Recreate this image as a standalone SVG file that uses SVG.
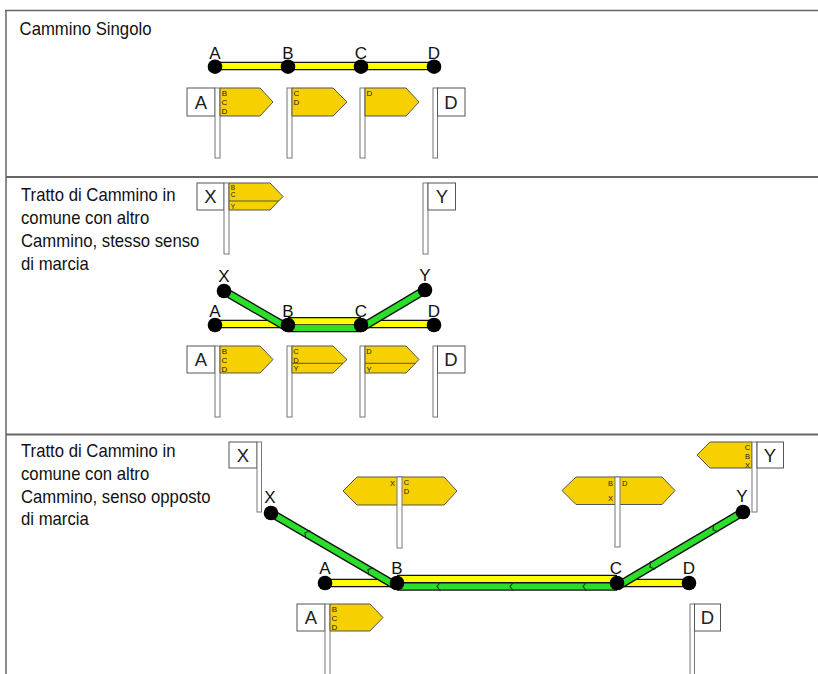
<svg xmlns="http://www.w3.org/2000/svg" width="818" height="674" viewBox="0 0 818 674">
<style>
.t{font-family:"Liberation Sans",Arial,sans-serif;fill:#111}
.h{font-size:17.5px}
.lbl{font-size:17px;text-anchor:middle}
.box{fill:#fff;stroke:#555;stroke-width:1}
.pole{fill:#fff;stroke:#777;stroke-width:1}
.sg{fill:#f6d000;stroke:#555;stroke-width:1}
.dv{stroke:#555;stroke-width:1;fill:none}
.st{font-family:"Liberation Sans Narrow","Liberation Sans",Arial,sans-serif;font-size:8px;fill:#222}
.ss{font-family:"Liberation Sans Narrow","Liberation Sans",Arial,sans-serif;font-size:7.5px;fill:#222}
.xs{font-family:"Liberation Sans Narrow","Liberation Sans",Arial,sans-serif;font-size:6.5px;fill:#222}
.vt{writing-mode:vertical-rl;text-orientation:upright}
.bl{font-family:"Liberation Sans",Arial,sans-serif;font-size:18.5px;fill:#222;text-anchor:middle}
.ko{stroke:#111;stroke-width:8.5;fill:none}
.y{stroke:#ffff00;stroke-width:6;fill:none}
.g{stroke:#2ade2a;stroke-width:6;fill:none}
.dot{fill:#000}
.ch{fill:none;stroke:#0d400d;stroke-width:1.2}
.frame{stroke:#666;fill:none}
</style>

<g id="frame" class="frame">
<line x1="5" y1="10.5" x2="818" y2="10.5" stroke-width="1.5"/>
<line x1="6" y1="10" x2="6" y2="674" stroke-width="1.5"/>
<line x1="6" y1="177" x2="818" y2="177" stroke-width="2"/>
<line x1="6" y1="434.5" x2="818" y2="434.5" stroke-width="2"/>
</g>

<g id="headings" class="t h" transform="scale(0.955,1)">
<text x="20.5" y="35">Cammino Singolo</text>
<text x="22" y="201.5">Tratto di Cammino in</text>
<text x="22" y="224.5">comune con altro</text>
<text x="22" y="247.5">Cammino, stesso senso</text>
<text x="22" y="270.5">di marcia</text>
<text x="22" y="457">Tratto di Cammino in</text>
<text x="22" y="480">comune con altro</text>
<text x="22" y="503">Cammino, senso opposto</text>
<text x="22" y="525.5">di marcia</text>
</g>

<g id="connectors">
<!-- section 1 -->
<line class="ko" x1="215" y1="66" x2="434" y2="66"/>
<line class="y" x1="215" y1="66" x2="434" y2="66"/>
<!-- section 2 -->
<line class="ko" x1="215" y1="324" x2="288" y2="324"/>
<line class="ko" x1="361" y1="324" x2="434" y2="324"/>
<line class="ko" x1="288" y1="321.3" x2="361" y2="321.3"/>
<line class="ko" x1="288" y1="328" x2="361" y2="328"/>
<line class="y" x1="215" y1="324" x2="288" y2="324"/>
<line class="y" x1="361" y1="324" x2="434" y2="324"/>
<line class="y" x1="288" y1="321.3" x2="361" y2="321.3"/>
<line class="g" x1="288" y1="328" x2="361" y2="328"/>
<line class="ko" x1="224" y1="291" x2="288" y2="328"/>
<line class="g" x1="224" y1="291" x2="288" y2="328"/>
<line class="ko" x1="361" y1="328" x2="425" y2="290"/>
<line class="g" x1="361" y1="328" x2="425" y2="290"/>
<!-- section 3 -->
<line class="ko" x1="325" y1="583" x2="397" y2="583"/>
<line class="ko" x1="617" y1="583" x2="689" y2="583"/>
<line class="ko" x1="397" y1="579" x2="617" y2="579"/>
<line class="ko" x1="397" y1="586.5" x2="617" y2="586.5"/>
<line class="y" x1="325" y1="583" x2="397" y2="583"/>
<line class="y" x1="617" y1="583" x2="689" y2="583"/>
<line class="y" x1="397" y1="579" x2="617" y2="579"/>
<line class="g" x1="397" y1="586.5" x2="617" y2="586.5"/>
<line class="ko" x1="271" y1="513" x2="397" y2="586.5"/>
<line class="g" x1="271" y1="513" x2="397" y2="586.5"/>
<line class="ko" x1="617" y1="586.5" x2="743" y2="512"/>
<line class="g" x1="617" y1="586.5" x2="743" y2="512"/>
<!-- direction chevrons -->
<path class="ch" d="M440.5,582 L437,586.5 L440.5,591"/>
<path class="ch" d="M513.5,582 L510,586.5 L513.5,591"/>
<path class="ch" d="M586.5,582 L583,586.5 L586.5,591"/>
<path class="ch" transform="translate(305,532.8) rotate(30.3)" d="M3.5,-4.5 L0,0 L3.5,4.5"/>
<path class="ch" transform="translate(368,569.6) rotate(30.3)" d="M3.5,-4.5 L0,0 L3.5,4.5"/>
<path class="ch" transform="translate(650,567.1) rotate(-30.6)" d="M3.5,-4.5 L0,0 L3.5,4.5"/>
<path class="ch" transform="translate(713,529.9) rotate(-30.6)" d="M3.5,-4.5 L0,0 L3.5,4.5"/>
</g>

<!-- ===== Section 1 nodes ===== -->
<g id="s1-A"><circle class="dot" cx="215" cy="66.7" r="7.3"/><text class="t lbl" x="215" y="59">A</text></g>
<g id="s1-B"><circle class="dot" cx="288" cy="66.7" r="7.3"/><text class="t lbl" x="288" y="59">B</text></g>
<g id="s1-C"><circle class="dot" cx="361" cy="66.7" r="7.3"/><text class="t lbl" x="361" y="59">C</text></g>
<g id="s1-D"><circle class="dot" cx="434" cy="66.7" r="7.3"/><text class="t lbl" x="434" y="59">D</text></g>

<g id="s1-sign-A">
<rect class="box" x="187" y="88" width="28" height="28"/>
<text class="bl" x="201" y="109">A</text>
<rect class="pole" x="215" y="88" width="5" height="70"/>
<polygon class="sg" points="220,88 260,88 273,102 260,116 220,116"/>
<text class="st vt" x="224.5" y="89">BCD</text>
</g>
<g id="s1-sign-B">
<rect class="pole" x="287" y="88" width="5" height="70"/>
<polygon class="sg" points="292,88 333,88 347,102 333,116 292,116"/>
<text class="st vt" x="296.5" y="89">CD</text>
</g>
<g id="s1-sign-C">
<rect class="pole" x="360" y="88" width="5" height="70"/>
<polygon class="sg" points="365,88 406,88 419,102 406,116 365,116"/>
<text class="st vt" x="369.5" y="89">D</text>
</g>
<g id="s1-sign-D">
<rect class="pole" x="433" y="88" width="4.5" height="70"/>
<rect class="box" x="437.5" y="88" width="27.5" height="28"/>
<text class="bl" x="451" y="109">D</text>
</g>

<!-- ===== Section 2 ===== -->
<g id="s2-sign-X">
<rect class="box" x="197" y="183" width="27" height="27"/>
<text class="bl" x="210.5" y="203">X</text>
<rect class="pole" x="224" y="183" width="5" height="71"/>
<polygon class="sg" points="229,183 270,183 283,196.5 270,210 229,210"/>
<line class="dv" x1="229" y1="201" x2="278.7" y2="201"/>
<text class="xs vt" x="233" y="184">BC</text>
<text class="xs vt" x="233" y="202.5">Y</text>
</g>
<g id="s2-sign-Y">
<rect class="pole" x="423" y="183" width="5" height="71"/>
<rect class="box" x="428" y="183" width="27.5" height="27"/>
<text class="bl" x="442" y="203">Y</text>
</g>

<g id="s2-X"><circle class="dot" cx="224" cy="291" r="7.3"/><text class="t lbl" x="224" y="282">X</text></g>
<g id="s2-Y"><circle class="dot" cx="425" cy="290" r="7.3"/><text class="t lbl" x="425" y="281">Y</text></g>
<g id="s2-A"><circle class="dot" cx="215" cy="325" r="7.3"/><text class="t lbl" x="215" y="317">A</text></g>
<g id="s2-B"><circle class="dot" cx="288" cy="325" r="7.3"/><text class="t lbl" x="288" y="317">B</text></g>
<g id="s2-C"><circle class="dot" cx="361" cy="325" r="7.3"/><text class="t lbl" x="361" y="317">C</text></g>
<g id="s2-D"><circle class="dot" cx="434" cy="325" r="7.3"/><text class="t lbl" x="434" y="317">D</text></g>

<g id="s2-sign-A">
<rect class="box" x="187" y="346" width="28" height="27"/>
<text class="bl" x="201" y="366">A</text>
<rect class="pole" x="215" y="346" width="5" height="71"/>
<polygon class="sg" points="220,346 260,346 273,359.5 260,373 220,373"/>
<text class="st vt" x="224.5" y="347">BCD</text>
</g>
<g id="s2-sign-B">
<rect class="pole" x="287" y="346" width="5" height="71"/>
<polygon class="sg" points="292,346 333,346 347,359.5 333,373 292,373"/>
<line class="dv" x1="292" y1="363.3" x2="343" y2="363.3"/>
<text class="ss vt" x="296" y="346.5">CD</text>
<text class="ss vt" x="296" y="364">Y</text>
</g>
<g id="s2-sign-C">
<rect class="pole" x="360" y="346" width="5" height="71"/>
<polygon class="sg" points="365,346 406,346 419,359.5 406,373 365,373"/>
<line class="dv" x1="365" y1="363.3" x2="415.5" y2="363.3"/>
<text class="ss vt" x="369" y="346.5">D</text>
<text class="ss vt" x="369" y="364.5">Y</text>
</g>
<g id="s2-sign-D">
<rect class="pole" x="433" y="346" width="4.5" height="71"/>
<rect class="box" x="437.5" y="346" width="27.5" height="27"/>
<text class="bl" x="451" y="366">D</text>
</g>

<!-- ===== Section 3 ===== -->
<g id="s3-sign-X">
<rect class="box" x="229" y="442" width="28" height="26"/>
<text class="bl" x="243" y="461.5">X</text>
<rect class="pole" x="257" y="442" width="4.5" height="70"/>
</g>
<g id="s3-sign-B">
<polygon class="sg" points="343,491 357,477 444,477 457,491 444,505 357,505"/>
<rect class="pole" x="397" y="477" width="5" height="71"/>
<text class="ss" x="395" y="485.5" text-anchor="end">X</text>
<text class="ss vt" x="406.5" y="477.5">CD</text>
</g>
<g id="s3-sign-C">
<polygon class="sg" points="562,490.5 576,477 662,477 675,490.5 662,504.5 576,504.5"/>
<rect class="pole" x="615" y="477" width="5" height="70"/>
<text class="ss" x="613" y="485.5" text-anchor="end">B</text>
<text class="ss" x="613" y="500.5" text-anchor="end">X</text>
<text class="ss" x="622" y="485.5">D</text>
</g>
<g id="s3-sign-Y">
<polygon class="sg" points="697,455 710,442 752,442 752,468 710,468"/>
<rect class="pole" x="752" y="442" width="5" height="70"/>
<rect class="box" x="757" y="442" width="26.5" height="26"/>
<text class="bl" x="770" y="461.5">Y</text>
<text class="ss vt" x="747.5" y="442.5">CBX</text>
</g>

<g id="s3-X"><circle class="dot" cx="271" cy="513" r="7.3"/><text class="t lbl" x="270" y="503">X</text></g>
<g id="s3-Y"><circle class="dot" cx="743" cy="512" r="7.3"/><text class="t lbl" x="742" y="502">Y</text></g>
<g id="s3-A"><circle class="dot" cx="325" cy="583" r="7.3"/><text class="t lbl" x="325" y="574">A</text></g>
<g id="s3-B"><circle class="dot" cx="397" cy="583" r="7.3"/><text class="t lbl" x="397" y="574">B</text></g>
<g id="s3-C"><circle class="dot" cx="617" cy="583" r="7.3"/><text class="t lbl" x="616" y="574">C</text></g>
<g id="s3-D"><circle class="dot" cx="689" cy="583" r="7.3"/><text class="t lbl" x="689" y="574">D</text></g>

<g id="s3-sign-A">
<rect class="box" x="297" y="604" width="28" height="27"/>
<text class="bl" x="311" y="624">A</text>
<rect class="pole" x="325" y="604" width="5" height="72"/>
<polygon class="sg" points="330,604 370,604 383,617.5 370,631 330,631"/>
<text class="st vt" x="334.5" y="605">BCD</text>
</g>
<g id="s3-sign-D">
<rect class="pole" x="690" y="604" width="4.5" height="72"/>
<rect class="box" x="694.5" y="604" width="26" height="27"/>
<text class="bl" x="707.5" y="624">D</text>
</g>
</svg>
